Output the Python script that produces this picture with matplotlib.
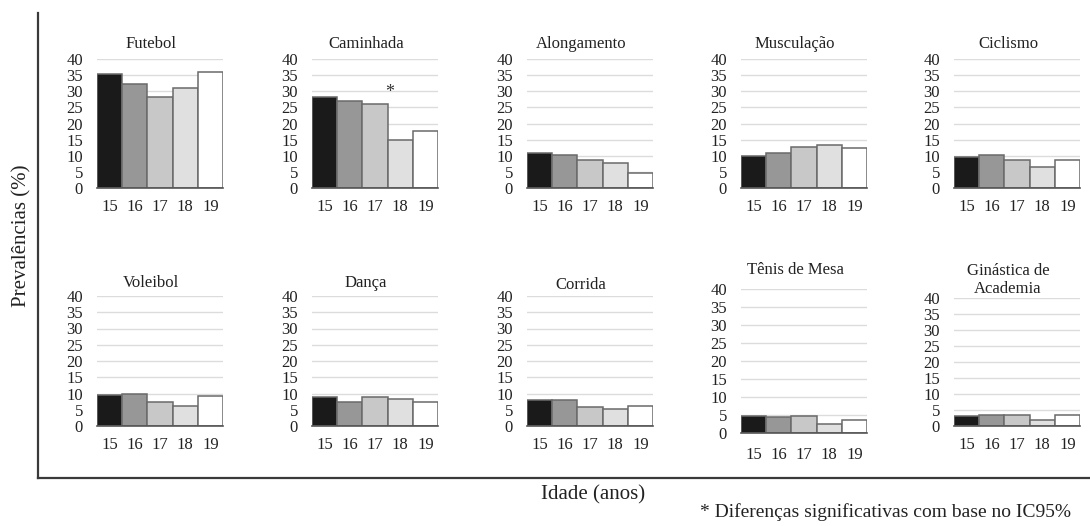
import matplotlib
matplotlib.use('Agg')
import matplotlib.pyplot as plt

plt.rcParams['font.family'] = ['Liberation Serif', 'DejaVu Serif']

ages = ['15', '16', '17', '18', '19']
bar_colors = ['#1a1a1a', '#979797', '#c8c8c8', '#e0e0e0', '#ffffff']

futebol = [35.2, 32.3, 28.1, 30.9, 36.0]
caminhada = [28.2, 27.0, 26.1, 14.8, 17.7]
alongamento = [11.0, 10.3, 8.6, 7.6, 4.5]
musculacao = [9.9, 10.9, 12.8, 13.3, 12.3]
ciclismo = [9.7, 10.3, 8.7, 6.5, 8.7]
voleibol = [9.6, 9.8, 7.4, 6.2, 9.3]
danca = [9.0, 7.4, 9.0, 8.3, 7.4]
corrida = [8.1, 7.9, 5.8, 5.1, 6.3]
tenis_mesa = [4.7, 4.4, 4.7, 2.6, 3.6]
ginastica = [3.1, 3.5, 3.5, 2.0, 3.3]

titles = ['Futebol', 'Caminhada', 'Alongamento', 'Musculação', 'Ciclismo',
          'Voleibol', 'Dança', 'Corrida', 'Tênis de Mesa', 'Ginástica de\nAcademia']
series = [futebol, caminhada, alongamento, musculacao, ciclismo,
          voleibol, danca, corrida, tenis_mesa, ginastica]

W, H = 1090, 526
fig = plt.figure(figsize=(W / 100, H / 100), dpi=100)


def px_axes(x0, top, x1, bottom):
    # pixel box (top-left origin) -> figure fraction
    return fig.add_axes([x0 / W, 1 - bottom / H, (x1 - x0) / W, (bottom - top) / H])


# outer frame with the two big axis lines
frame = px_axes(38, 13, 1090, 478)
frame.set_xticks([])
frame.set_yticks([])
frame.patch.set_alpha(0)
for s in ['top', 'right']:
    frame.spines[s].set_visible(False)
for s in ['left', 'bottom']:
    frame.spines[s].set_color('#3a3a3a')
    frame.spines[s].set_linewidth(1.6)

col_x = [97, 312, 527, 741, 954]
panel_w = 126
# (top of 40, baseline 0, title y) per panel
boxes = [(59, 188, 44)] * 5 + [(296, 426, 283), (296, 426, 283), (296, 426, 285),
                               (289, 433, 270), (298, 426, 280)]

for i, (name, vals) in enumerate(zip(titles, series)):
    top, bottom, ty = boxes[i]
    x0 = col_x[i % 5]
    ax = px_axes(x0, top, x0 + panel_w, bottom)
    ax.bar(range(5), vals, width=1.0, color=bar_colors, edgecolor='#6a6a6a', linewidth=1.1, zorder=3)
    ax.set_xlim(-0.5, 4.5)
    ax.set_ylim(0, 40)
    ax.set_yticks(range(0, 45, 5))
    ax.set_xticks(range(5))
    ax.set_xticklabels(ages)
    ax.yaxis.grid(True, color='#dcdcdc', linewidth=1.0, zorder=0)
    ax.set_axisbelow(True)
    ax.tick_params(axis='both', length=0, colors='#222222')
    ax.tick_params(axis='y', pad=10, labelsize=12)
    ax.tick_params(axis='x', pad=8 if i != 8 else 10, labelsize=12)
    for s in ['top', 'right', 'left']:
        ax.spines[s].set_visible(False)
    ax.spines['bottom'].set_color('#555555')
    ax.spines['bottom'].set_linewidth(1.2)
    ax.spines['bottom'].set_zorder(4)
    # titles sit a little left of the bar area centre
    xc = (x0 + panel_w / 2 - 9) / W
    fig.text(xc, 1 - ty / H, name, ha='center', va='center', fontsize=12, color='#222222',
             linespacing=1.15)
    if name == 'Caminhada':
        ax.text(2.6, 29.5, '*', ha='center', va='center', fontsize=13, color='#333333')

fig.text(22 / W, 1 - 236 / H, 'Prevalências (%)', rotation=90, ha='center', va='center',
         fontsize=15, color='#222222')
fig.text(593 / W, 1 - 495 / H, 'Idade (anos)', ha='center', va='center',
         fontsize=15, color='#222222')
fig.text(700 / W, 1 - 512 / H, '* Diferenças significativas com base no IC95%', ha='left',
         va='center', fontsize=14, color='#222222')

fig.savefig('out.png', dpi=100)
